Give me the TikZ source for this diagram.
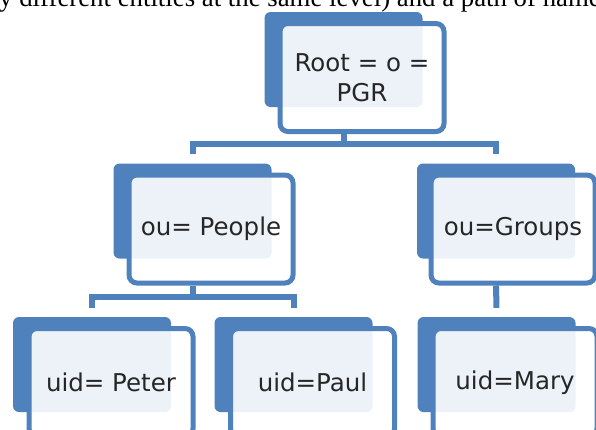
\documentclass[tikz,border=0pt]{standalone}
\definecolor{mBlue}{HTML}{4F81BD}
\definecolor{mText}{HTML}{262626}
\usepackage{fontspec}
\setmainfont{DejaVu Sans}
\newfontfamily\captionserif{Liberation Serif}
\usepackage{tikz}
\usetikzlibrary{positioning}

\tikzset{
  entback/.style={fill=mBlue, rounded corners=6pt, minimum width=158pt, minimum height=95pt, inner sep=0pt},
  entfront/.style={draw=mBlue, line width=5pt, fill=white, fill opacity=0.9, text opacity=1, rounded corners=8pt,
    minimum width=164pt, minimum height=108pt, inner sep=2pt, align=center, text=mText,
    font=\fontsize{24.5}{30}\selectfont},
  link/.style={draw=mBlue, line width=6pt}
}

\begin{document}
\begin{tikzpicture}[x=1pt, y=-1pt]
\useasboundingbox (0,0) rectangle (596,429);
\clip (0,0) rectangle (596,429);
% cut-off line of running text
\node[anchor=base west, inner sep=0pt, font=\captionserif\fontsize{26.8}{30}\selectfont] (textline) at (-1,6.5) {y different entities at the same level) and a path of name};
% root
\node[entback] (rootbg) at (343.5,59.5) {};
\node[entfront] (root) at (362,77.5) {Root = o =\\PGR};
% organisational units
\node[entback] (peoplebg) at (192.5,211) {};
\node[entfront] (people) at (211,229) {ou= People};
\node[entback] (groupsbg) at (496,211) {};
\node[entfront] (groups) at (513,229) {ou=Groups};
% users
\node[entback] (peterbg) at (92,364.5) {};
\node[entfront] (peter) at (111,382.5) {uid= Peter};
\node[entback] (paulbg) at (293.5,364.5) {};
\node[entfront] (paul) at (312.5,382.5) {uid=Paul};
\node[entback] (marybg) at (496.5,364.5) {};
\node[entfront] (mary) at (515,382.5) {uid=Mary};
% connectors
\coordinate (rootfork) at (343.5,143.5);
\coordinate (peoplefork) at (192.5,296.5);
\draw[link] (rootbg.south |- root.south) -- (rootfork);
\draw[link] ([yshift=9pt]peoplebg.north) |- (rootfork) -| ([yshift=9pt]groupsbg.north);
\draw[link] (peoplebg.south |- people.south) -- (peoplefork);
\draw[link] ([yshift=9pt]peterbg.north) |- (peoplefork) -| ([yshift=9pt]paulbg.north);
\draw[link] (groupsbg.south |- groups.south) -- ([yshift=9pt]marybg.north);
\end{tikzpicture}
\end{document}
